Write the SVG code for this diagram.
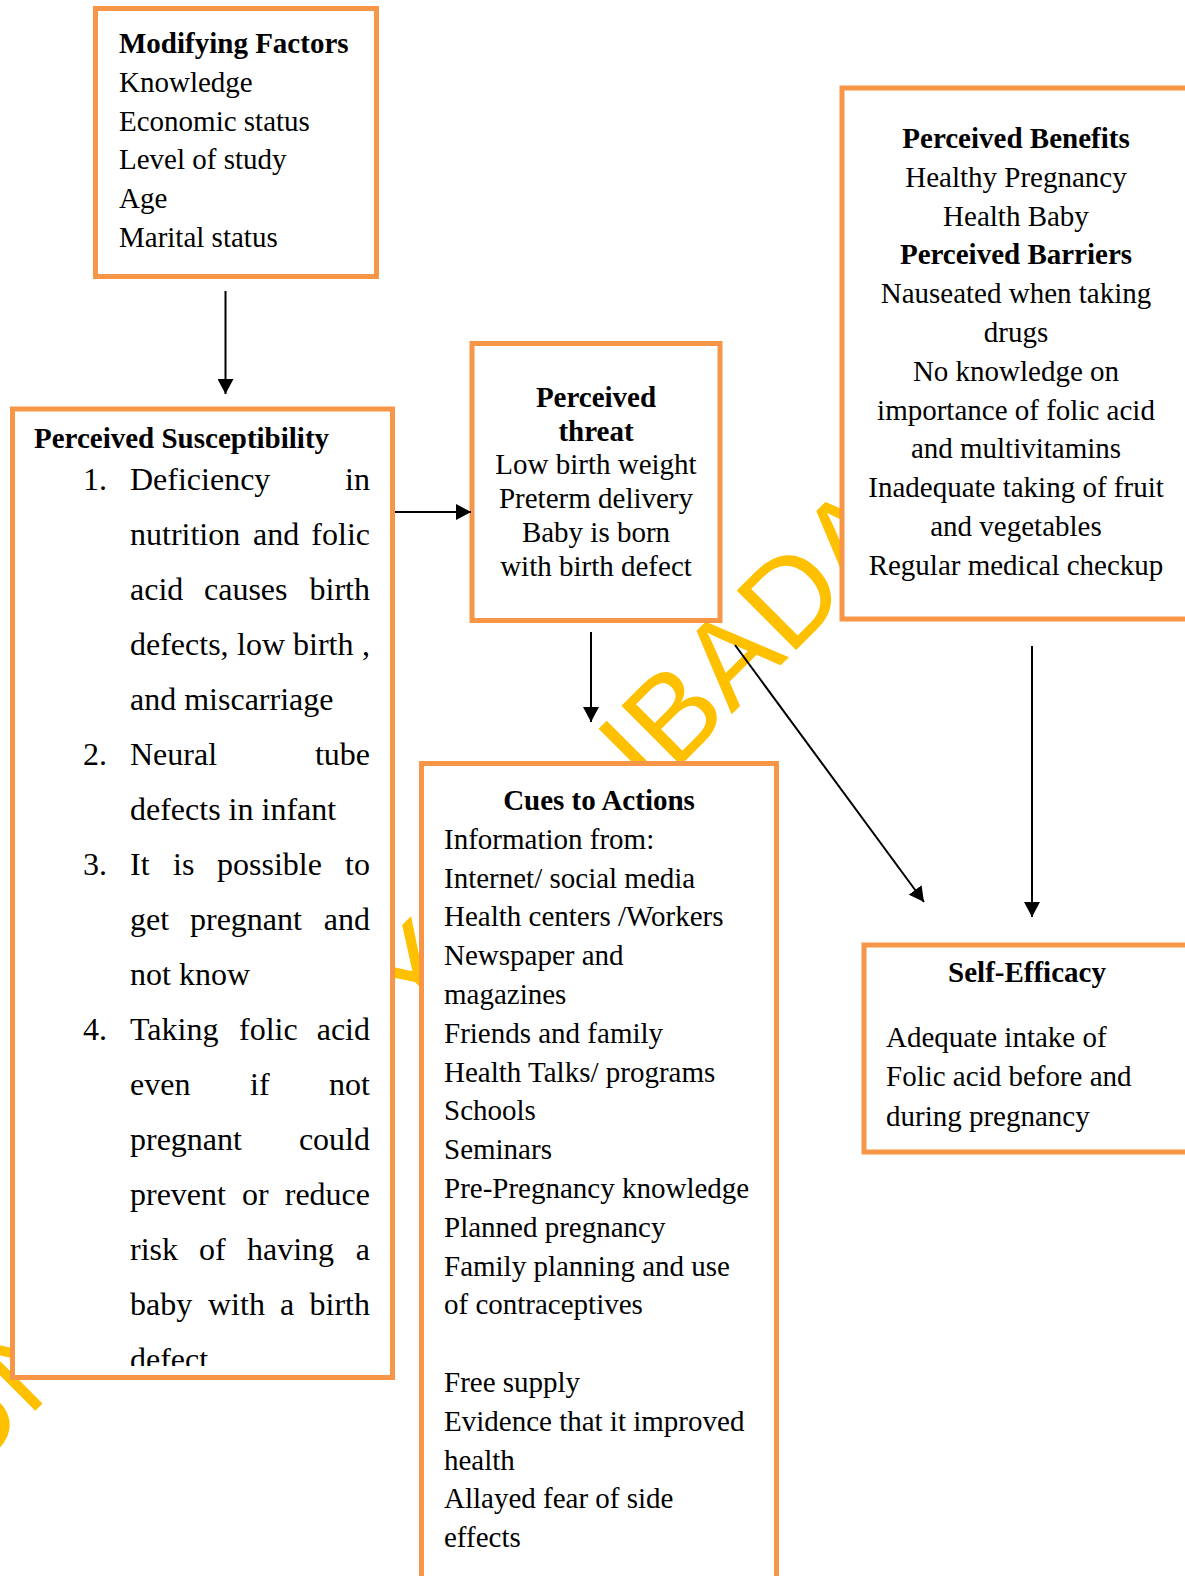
<svg xmlns="http://www.w3.org/2000/svg" width="1185" height="1576" viewBox="0 0 1185 1576">
<style>
.box{fill:#fff;stroke:#F79646;stroke-width:5}
.t{font-family:"Liberation Serif","Times New Roman",serif;font-size:29px;fill:#000}
.b{font-weight:bold}
.c{text-anchor:middle}
.e{text-anchor:end}
.l{font-size:32px}
.wm{font-family:"Liberation Sans",Arial,sans-serif;font-size:122px;fill:#FFC000}
.conn line{stroke:#000;stroke-width:2;marker-end:url(#ah)}
</style>
<defs>
<marker id="ah" markerUnits="userSpaceOnUse" markerWidth="16" markerHeight="16" refX="15" refY="8" orient="auto">
<path d="M0,0 L15,8 L0,16 Z" fill="#000"/>
</marker>
<clipPath id="clipS"><rect x="0" y="400" width="400" height="966"/></clipPath>
</defs>
<rect width="1185" height="1576" fill="#fff"/>
<text class="wm" transform="translate(-34,1480) rotate(-45)">UNIVERSI<tspan dx="-16">TY</tspan><tspan dx="16"> OF IBADAN</tspan></text>

<g id="modifying-factors">
<rect class="box" x="95.5" y="8.5" width="281" height="268"/>
<text class="t b" x="119" y="53">Modifying Factors</text>
<text class="t" x="119" y="91.5">Knowledge</text>
<text class="t" x="119" y="130.5">Economic status</text>
<text class="t" x="119" y="169">Level of study</text>
<text class="t" x="119" y="208">Age</text>
<text class="t" x="119" y="247">Marital status</text>
</g>

<g id="perceived-susceptibility">
<rect class="box" x="12.5" y="409" width="380" height="968.5"/>
<text class="t b" x="34" y="448">Perceived Susceptibility</text>
<g clip-path="url(#clipS)">
<text class="t l" x="83" y="490">1.</text><text class="t l" x="130" y="490">Deficiency</text><text class="t l e" x="370" y="490">in</text>
<text class="t l" x="130" y="545">nutrition</text><text class="t l" x="253" y="545">and</text><text class="t l e" x="370" y="545">folic</text>
<text class="t l" x="130" y="600">acid</text><text class="t l" x="204" y="600">causes</text><text class="t l e" x="370" y="600">birth</text>
<text class="t l" x="130" y="655">defects,</text><text class="t l" x="237" y="655">low</text><text class="t l" x="293" y="655">birth</text><text class="t l e" x="370" y="655">,</text>
<text class="t l" x="130" y="710">and miscarriage</text>
<text class="t l" x="83" y="765">2.</text><text class="t l" x="130" y="765">Neural</text><text class="t l e" x="370" y="765">tube</text>
<text class="t l" x="130" y="820">defects in infant</text>
<text class="t l" x="83" y="875">3.</text><text class="t l" x="130" y="875">It</text><text class="t l" x="173" y="875">is</text><text class="t l" x="217" y="875">possible</text><text class="t l e" x="370" y="875">to</text>
<text class="t l" x="130" y="930">get</text><text class="t l" x="190" y="930">pregnant</text><text class="t l e" x="370" y="930">and</text>
<text class="t l" x="130" y="985">not know</text>
<text class="t l" x="83" y="1040">4.</text><text class="t l" x="130" y="1040">Taking</text><text class="t l" x="239" y="1040">folic</text><text class="t l e" x="370" y="1040">acid</text>
<text class="t l" x="130" y="1095">even</text><text class="t l" x="250" y="1095">if</text><text class="t l e" x="370" y="1095">not</text>
<text class="t l" x="130" y="1150">pregnant</text><text class="t l e" x="370" y="1150">could</text>
<text class="t l" x="130" y="1205">prevent</text><text class="t l" x="242" y="1205">or</text><text class="t l e" x="370" y="1205">reduce</text>
<text class="t l" x="130" y="1260">risk</text><text class="t l" x="199" y="1260">of</text><text class="t l" x="247" y="1260">having</text><text class="t l e" x="370" y="1260">a</text>
<text class="t l" x="130" y="1315">baby</text><text class="t l" x="208" y="1315">with</text><text class="t l" x="280" y="1315">a</text><text class="t l e" x="370" y="1315">birth</text>
<text class="t l" x="130" y="1370">defect</text>
</g>
</g>

<g id="perceived-threat">
<rect class="box" x="472" y="343.5" width="248" height="277"/>
<text class="t b c" x="596" y="407">Perceived</text>
<text class="t b c" x="596" y="441">threat</text>
<text class="t c" x="596" y="474">Low birth weight</text>
<text class="t c" x="596" y="508">Preterm delivery</text>
<text class="t c" x="596" y="542">Baby is born</text>
<text class="t c" x="596" y="576">with birth defect</text>
</g>

<g id="perceived-benefits-barriers">
<rect class="box" x="842" y="88" width="360" height="531"/>
<text class="t b c" x="1016" y="148">Perceived Benefits</text>
<text class="t c" x="1016" y="186.8">Healthy Pregnancy</text>
<text class="t c" x="1016" y="225.6">Health Baby</text>
<text class="t b c" x="1016" y="264.4">Perceived Barriers</text>
<text class="t c" x="1016" y="303.2">Nauseated when taking</text>
<text class="t c" x="1016" y="342">drugs</text>
<text class="t c" x="1016" y="380.8">No knowledge on</text>
<text class="t c" x="1016" y="419.6">importance of folic acid</text>
<text class="t c" x="1016" y="458.4">and multivitamins</text>
<text class="t c" x="1016" y="497.2">Inadequate taking of fruit</text>
<text class="t c" x="1016" y="536">and vegetables</text>
<text class="t c" x="1016" y="574.8">Regular medical checkup</text>
</g>

<g id="cues-to-actions">
<rect class="box" x="421.5" y="763.5" width="355" height="840"/>
<text class="t b c" x="599" y="810">Cues to Actions</text>
<text class="t" x="444" y="848.8">Information from:</text>
<text class="t" x="444" y="887.6">Internet/ social media</text>
<text class="t" x="444" y="926.4">Health centers /Workers</text>
<text class="t" x="444" y="965.2">Newspaper and</text>
<text class="t" x="444" y="1004">magazines</text>
<text class="t" x="444" y="1042.8">Friends and family</text>
<text class="t" x="444" y="1081.6">Health Talks/ programs</text>
<text class="t" x="444" y="1120.4">Schools</text>
<text class="t" x="444" y="1159.2">Seminars</text>
<text class="t" x="444" y="1198">Pre-Pregnancy knowledge</text>
<text class="t" x="444" y="1236.8">Planned pregnancy</text>
<text class="t" x="444" y="1275.6">Family planning and use</text>
<text class="t" x="444" y="1314.4">of contraceptives</text>
<text class="t" x="444" y="1392">Free supply</text>
<text class="t" x="444" y="1430.8">Evidence that it improved</text>
<text class="t" x="444" y="1469.6">health</text>
<text class="t" x="444" y="1508.4">Allayed fear of side</text>
<text class="t" x="444" y="1547.2">effects</text>
</g>

<g id="self-efficacy">
<rect class="box" x="864" y="945" width="340" height="207"/>
<text class="t b c" x="1027" y="982">Self-Efficacy</text>
<text class="t" x="886" y="1047">Adequate intake of</text>
<text class="t" x="886" y="1086">Folic acid before and</text>
<text class="t" x="886" y="1126">during pregnancy</text>
</g>

<g id="connectors" class="conn">
<line x1="225.5" y1="291" x2="225.5" y2="394"/>
<line x1="395" y1="512" x2="471" y2="512"/>
<line x1="591" y1="632" x2="591" y2="722"/>
<line x1="735" y1="645" x2="924" y2="902"/>
<line x1="1032" y1="646" x2="1032" y2="917"/>
</g>
</svg>
